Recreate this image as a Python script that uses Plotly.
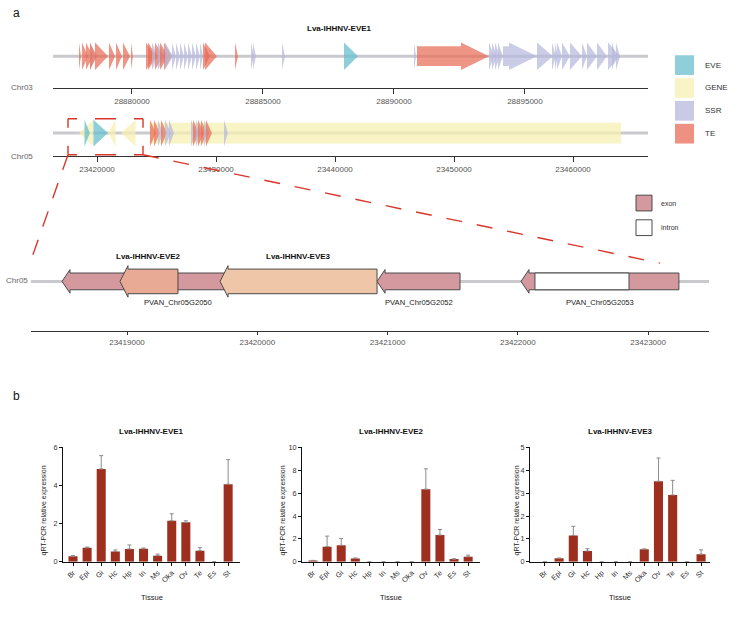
import plotly.graph_objects as go

W, H = 745, 617
OFF = 0  # body margin removed by post_script below

# ------------------------------------------------------------------ data
feature_types = ["EVE", "GENE", "SSR", "TE"]

# Chr03 track (all features on + strand)
chr03_type = ["TE", "TE", "TE", "SSR", "TE", "TE", "TE", "TE", "TE", "TE",
              "TE", "TE", "SSR", "TE", "SSR", "TE", "TE", "SSR", "SSR", "SSR",
              "SSR", "SSR", "SSR", "SSR", "SSR", "SSR", "TE", "TE", "TE", "SSR",
              "SSR", "SSR", "EVE", "SSR", "TE", "SSR", "SSR", "SSR", "SSR", "SSR",
              "SSR", "SSR", "SSR", "SSR", "SSR", "SSR", "SSR", "SSR", "SSR", "SSR",
              "SSR", "SSR"]
chr03_start = [28877977, 28878092, 28878244, 28878397, 28878397, 28878588, 28879122, 28879389, 28879656, 28879962,
               28880534, 28880611, 28880763, 28880878, 28880992, 28881069, 28881221, 28881260, 28881527, 28881679,
               28881832, 28881985, 28882138, 28882290, 28882443, 28882596, 28882710, 28882786, 28883932, 28884542,
               28884619, 28885726, 28888092, 28890764, 28890879, 28893627, 28893741, 28893856, 28893970, 28894161,
               28895459, 28896031, 28896146, 28896222, 28896413, 28896718, 28897176, 28897367, 28897749, 28898169,
               28898322, 28898475]
chr03_end = [28878053, 28878321, 28878511, 28878588, 28878664, 28879084, 28879351, 28879618, 28879924, 28880038,
             28880878, 28880954, 28880992, 28881183, 28881260, 28881374, 28881527, 28881565, 28881679, 28881832,
             28881985, 28882138, 28882290, 28882443, 28882596, 28882710, 28882977, 28883244, 28884046, 28884657,
             28884733, 28885840, 28888627, 28890841, 28893627, 28893818, 28893932, 28894047, 28894161, 28895459,
             28896070, 28896184, 28896260, 28896413, 28896718, 28897176, 28897367, 28897749, 28898131, 28898627,
             28898475, 28898627]

# Chr05 track
chr05_type = ["GENE", "GENE", "EVE", "EVE", "GENE", "GENE",
              "TE", "TE", "SSR", "TE", "SSR", "SSR",
              "SSR", "TE", "SSR", "TE", "TE", "SSR", "TE", "SSR"]
chr05_strand = [0, -1, 1, 1, -1, -1,
                1, 1, 1, 1, 1, 1,
                1, 1, 1, 1, 1, 1, 1, 1]
chr05_start = [23424450, 23418500, 23418950, 23419700, 23420920, 23422020,
               23424450, 23424790, 23425130, 23425380, 23425710, 23426050,
               23427900, 23428070, 23428320, 23428490, 23428740, 23428990, 23429160, 23430670]
chr05_end = [23464034, 23419700, 23419400, 23420920, 23421560, 23423240,
             23424960, 23425290, 23425550, 23425880, 23426220, 23426470,
             23428320, 23428570, 23428740, 23428990, 23429240, 23429410, 23429660, 23431000]

# Detail view of Chr05
gene_names = ["PVAN_Chr05G2050", "PVAN_Chr05G2052", "PVAN_Chr05G2053"]
gene_start = [23418501, 23420919, 23422024]
gene_end = [23420282, 23421556, 23423236]
intron_start = [23422131]
intron_end = [23422853]
eve_names = ["Lva-IHHNV-EVE2", "Lva-IHHNV-EVE3"]
eve_start = [23418946, 23419714]
eve_end = [23419391, 23420919]

chr03_ticks = [28880000, 28885000, 28890000, 28895000]
chr05_ticks = [23420000, 23430000, 23440000, 23450000, 23460000]
detail_ticks = [23419000, 23420000, 23421000, 23422000, 23423000]

# qRT-PCR
tissues = ["Br", "Epi", "Gi", "Hc", "Hp", "In", "Ms", "Oka", "Ov", "Te", "Es", "St"]
eve1_mean = [0.29, 0.73, 4.87, 0.54, 0.67, 0.68, 0.32, 2.15, 2.07, 0.58, 0.0, 4.07]
eve1_err = [0.03, 0.04, 0.70, 0.08, 0.21, 0.04, 0.08, 0.37, 0.08, 0.16, 0.0, 1.29]
eve2_mean = [0.10, 1.32, 1.44, 0.29, 0.0, 0.0, 0.0, 0.0, 6.35, 2.33, 0.23, 0.43]
eve2_err = [0.02, 0.92, 0.60, 0.04, 0.0, 0.0, 0.0, 0.0, 1.78, 0.49, 0.03, 0.15]
eve3_mean = [0.0, 0.15, 1.15, 0.47, 0.0, 0.0, 0.0, 0.55, 3.52, 2.92, 0.0, 0.33]
eve3_err = [0.0, 0.01, 0.40, 0.10, 0.0, 0.0, 0.0, 0.01, 1.02, 0.64, 0.0, 0.19]

# ------------------------------------------------------------------ styles
FONT = "Liberation Sans, Arial, sans-serif"
feat_fill = {"EVE": "rgba(106,191,206,0.75)", "GENE": "rgba(247,240,179,0.75)",
             "SSR": "rgba(183,184,221,0.72)", "TE": "rgba(232,108,88,0.72)"}
legend_fill = {"EVE": "#8FCFDA", "GENE": "#F9F4C6", "SSR": "#C9CAE5", "TE": "#EE9182"}
EXON = "#D4989F"
EVE2C = "#E8AA94"
EVE3C = "#F0C6A8"
OUTLINE = "#4a4a4a"
TRACK = "#C9C9CE"
BAR = "#9E2F1E"
RED = "#D8362A"


def px(x):
    return (x - OFF) / W


def py(y):
    return 1 - (y - OFF) / H


def arrow(start, end, strand, c, bh, hh, hl):
    if strand == 0:
        return [start, end, end, start, start], [c - bh, c - bh, c + bh, c + bh, c - bh]
    if strand > 0:
        hs = end - hl
        if hs <= start:
            return [start, end, start, start], [c - hh, c, c + hh, c - hh]
        return ([start, hs, hs, end, hs, hs, start, start],
                [c - bh, c - bh, c - hh, c, c + hh, c + bh, c + bh, c - bh])
    hs = start + hl
    if hs >= end:
        return [end, start, end, end], [c - hh, c, c + hh, c - hh]
    return ([end, hs, hs, start, hs, hs, end, end],
            [c - bh, c - bh, c - hh, c, c + hh, c + bh, c + bh, c - bh])


def note(x, y, text, size=8, color="#333", xa="center", ya="middle", **kw):
    d = dict(x=px(x), y=py(y), xref="paper", yref="paper", text=text, showarrow=False,
             xanchor=xa, yanchor=ya, font=dict(size=size, color=color, family=FONT))
    d.update(kw)
    return d


fig = go.Figure()
ann = []
shapes = []

# axis geometry (pixels of the reference picture)
trk_px = (53, 648)
chr03_rng = [28876985, 28899696]
chr05_rng = [23416303, 23466302]
det_px = (31, 709)
det_rng = [23418263, 23423467]

axis_common = dict(showgrid=False, zeroline=False)
track_x = dict(showline=True, linecolor="#333", linewidth=1.2, ticks="outside", ticklen=5,
               tickcolor="#333", tickformat="d", tickfont=dict(size=8, color="#555", family=FONT),
               **axis_common)
hidden_y = dict(visible=False, fixedrange=True, **axis_common)

layout_axes = {}
layout_axes["xaxis"] = dict(domain=[px(trk_px[0]), px(trk_px[1])], range=chr03_rng, anchor="y",
                            tickvals=chr03_ticks, **track_x)
layout_axes["yaxis"] = dict(domain=[py(85), py(35)], range=[0, 50], anchor="x", **hidden_y)
layout_axes["xaxis2"] = dict(domain=[px(trk_px[0]), px(trk_px[1])], range=chr05_rng, anchor="y2",
                             tickvals=chr05_ticks, **track_x)
layout_axes["yaxis2"] = dict(domain=[py(154), py(110)], range=[0, 44], anchor="x2", **hidden_y)
layout_axes["xaxis3"] = dict(domain=[px(det_px[0]), px(det_px[1])], range=det_rng, anchor="y3",
                             tickvals=detail_ticks, **dict(track_x, ticklen=3))
layout_axes["yaxis3"] = dict(domain=[py(332), py(255)], range=[0, 77], anchor="x3", **hidden_y)

# ---------------- Chr03 track
c3 = 32
bp_per_px3 = (chr03_rng[1] - chr03_rng[0]) / (trk_px[1] - trk_px[0])
fig.add_trace(go.Scatter(x=chr03_rng, y=[c3, c3], mode="lines", line=dict(color=TRACK, width=3),
                         xaxis="x", yaxis="y", hoverinfo="skip"))
for t, s, e in zip(chr03_type, chr03_start, chr03_end):
    xs, ys = arrow(s, e, 1, c3, 10, 14, 28 * bp_per_px3)
    fig.add_trace(go.Scatter(x=xs, y=ys, fill="toself", fillcolor=feat_fill[t], mode="lines",
                             line=dict(width=0, color="rgba(0,0,0,0)"), xaxis="x", yaxis="y",
                             hoverinfo="skip"))

# ---------------- Chr05 track
c5 = 23
bp_per_px5 = (chr05_rng[1] - chr05_rng[0]) / (trk_px[1] - trk_px[0])
fig.add_trace(go.Scatter(x=chr05_rng, y=[c5, c5], mode="lines", line=dict(color=TRACK, width=3),
                         xaxis="x2", yaxis="y2", hoverinfo="skip"))
for t, st, s, e in zip(chr05_type, chr05_strand, chr05_start, chr05_end):
    xs, ys = arrow(s, e, st, c5, 10.5, 13.5, 28 * bp_per_px5)
    fig.add_trace(go.Scatter(x=xs, y=ys, fill="toself", fillcolor=feat_fill[t], mode="lines",
                             line=dict(width=0, color="rgba(0,0,0,0)"), xaxis="x2", yaxis="y2",
                             hoverinfo="skip"))

# ---------------- detail track
cd = 50.5
bp_per_pxd = (det_rng[1] - det_rng[0]) / (det_px[1] - det_px[0])
fig.add_trace(go.Scatter(x=det_rng, y=[cd, cd], mode="lines", line=dict(color=TRACK, width=3),
                         xaxis="x3", yaxis="y3", hoverinfo="skip"))


def det_poly(xs, ys, fill):
    fig.add_trace(go.Scatter(x=xs, y=ys, fill="toself", fillcolor=fill, mode="lines",
                             line=dict(width=1, color=OUTLINE), xaxis="x3", yaxis="y3",
                             hoverinfo="skip"))


for name, s, e in zip(gene_names, gene_start, gene_end):
    xs, ys = arrow(s, e, -1, cd, 8.5, 12, 8 * bp_per_pxd)
    det_poly(xs, ys, EXON)
    ann.append(dict(x=(s + e) / 2, y=cd - 21, xref="x3", yref="y3", text=name, showarrow=False,
                    xanchor="center", yanchor="middle",
                    font=dict(size=7.6, color="#222", family=FONT)))
for s, e in zip(intron_start, intron_end):
    xs, ys = arrow(s, e, 0, cd, 8.5, 12, 0)
    det_poly(xs, ys, "#FFFFFF")
for name, s, e, col in zip(eve_names, eve_start, eve_end, [EVE2C, EVE3C]):
    xs, ys = arrow(s, e, -1, cd, 12.5, 16, 8 * bp_per_pxd)
    det_poly(xs, ys, col)
    ann.append(dict(x=(s + e) / 2, y=cd + 25, xref="x3", yref="y3", text="<b>%s</b>" % name,
                    showarrow=False, xanchor="center", yanchor="middle",
                    font=dict(size=8, color="#111", family=FONT)))

# ---------------- bar charts
bar_specs = [
    ("Lva-IHHNV-EVE1", eve1_mean, eve1_err, (63, 240), [0, 6], [0, 2, 4, 6], [-0.71, 11.84], 44),
    ("Lva-IHHNV-EVE2", eve2_mean, eve2_err, (302, 480), [0, 10], [0, 2, 4, 6, 8, 10], [-0.78, 11.84], 283),
    ("Lva-IHHNV-EVE3", eve3_mean, eve3_err, (530, 710), [0, 5], [0, 1, 2, 3, 4, 5], [-1.05, 11.63], 517),
]
for i, (title, mean, err, (x0, x1), yr, yt, xr, ytx) in enumerate(bar_specs):
    k = i + 4
    xa, ya = "x%d" % k, "y%d" % k
    fig.add_trace(go.Bar(x=tissues, y=mean, marker=dict(color=BAR, line=dict(width=0)),
                         error_y=dict(type="data", array=err, arrayminus=[0] * len(err), symmetric=False,
                                      color="#8c8c8c", thickness=1, width=2),
                         xaxis=xa, yaxis=ya, hoverinfo="skip"))
    layout_axes["xaxis%d" % k] = dict(domain=[px(x0), px(x1)], anchor=ya, type="category", range=xr,
                                      showline=True, linecolor="#111", linewidth=1, ticks="outside",
                                      ticklen=3, tickcolor="#111", tickangle=-45,
                                      tickfont=dict(size=7.3, color="#333", family=FONT), **axis_common)
    layout_axes["yaxis%d" % k] = dict(domain=[py(566), py(450)], anchor=xa, range=yr, tickvals=yt,
                                      showline=True, linecolor="#111", linewidth=1, ticks="outside",
                                      ticklen=3, tickcolor="#111",
                                      tickfont=dict(size=7.3, color="#333", family=FONT), **axis_common)
    cx = (x0 + x1) / 2
    ann.append(note(cx, 434, "<b>%s</b>" % title, size=8, color="#111"))
    ann.append(note(cx, 602, "Tissue", size=7.5, color="#222"))
    ann.append(note(ytx, 514, "qRT-PCR relative expression", size=7, color="#222", textangle=-90))

# ---------------- texts
ann += [
    note(11, 9, "a", size=12, color="#111", xa="left"),
    note(11, 398, "b", size=12, color="#111", xa="left"),
    note(339, 25, "<b>Lva-IHHNV-EVE1</b>", size=8, color="#111"),
    note(9, 85, "Chr03", size=8, color="#666", xa="left"),
    note(9, 155, "Chr05", size=8, color="#666", xa="left"),
    note(30, 281, "Chr05", size=8, color="#666", xa="right"),
]

# feature legend
for j, t in enumerate(feature_types):
    y0 = 52 + j * 23.2
    shapes.append(dict(type="rect", xref="paper", yref="paper", x0=px(675), x1=px(694), y0=py(y0),
                       y1=py(y0 + 20), fillcolor=legend_fill[t], line=dict(width=0)))
    ann.append(note(703, y0 + 10, t, size=8, color="#333", xa="left"))
# exon/intron legend
for j, (lab, col) in enumerate([("exon", EXON), ("intron", "#FFFFFF")]):
    y0 = 194 + j * 25
    shapes.append(dict(type="rect", xref="paper", yref="paper", x0=px(636), x1=px(652), y0=py(y0),
                       y1=py(y0 + 16), fillcolor=col, line=dict(width=1, color=OUTLINE)))
    ann.append(note(659, y0 + 8, lab, size=7, color="#333", xa="left"))

# red dashed zoom box and connectors
bx0, bx1, by0, by1 = 68, 143, 116.5, 153
hdash = "9px,18px,21px,18px,9px,200px"
vdash = "9px,18px,9px,200px"
for (xa0, ya0, xa1, ya1, d) in [(bx0, by0, bx1, by0, hdash), (bx0, by1, bx1, by1, hdash),
                                (bx0, by0, bx0, by1, vdash), (bx1, by0, bx1, by1, vdash)]:
    shapes.append(dict(type="line", xref="paper", yref="paper", x0=px(xa0), y0=py(ya0), x1=px(xa1),
                       y1=py(ya1), line=dict(color=RED, width=1.4, dash=d)))
shapes.append(dict(type="line", xref="paper", yref="paper", x0=px(bx0), y0=py(by1), x1=px(31), y1=py(260),
                   line=dict(color=RED, width=1.4, dash="16px,14px")))
shapes.append(dict(type="line", xref="paper", yref="paper", x0=px(bx1), y0=py(by1), x1=px(660), y1=py(263),
                   line=dict(color=RED, width=1.4, dash="16px,15px")))

fig.update_layout(width=W, height=H, autosize=False, margin=dict(l=0, r=0, t=0, b=0),
                  paper_bgcolor="white", plot_bgcolor="white", showlegend=False,
                  bargap=0.36, annotations=ann, shapes=shapes, hovermode=False,
                  font=dict(family=FONT, color="#333"), **layout_axes)

fig.write_html("out.html", config={"displayModeBar": False, "staticPlot": True},
               post_script="document.body.style.margin='0';document.body.style.overflow='hidden';")
